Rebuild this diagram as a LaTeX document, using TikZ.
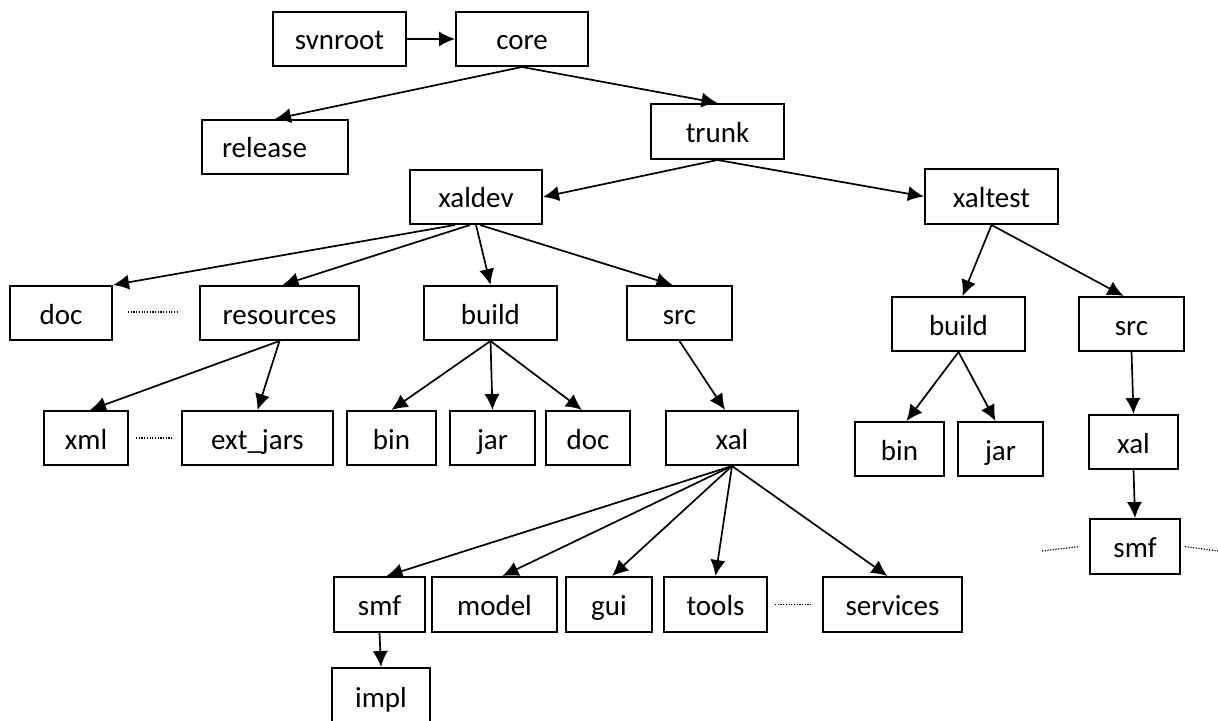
\documentclass[tikz,border=0pt]{standalone}
\usepackage{fontspec}
\setmainfont{Carlito}
\usetikzlibrary{arrows.meta,calc}
\newcommand\mkbox[6]{%
  \pgfmathsetmacro\bxX{(#2+#4)/2}%
  \pgfmathsetmacro\bxY{(#3+#5)/2}%
  \pgfmathsetmacro\bxW{(#4-#2)*0.5}%
  \pgfmathsetmacro\bxH{(#5-#3)*0.5}%
  \node[box,minimum width=\bxW pt,minimum height=\bxH pt] (#1) at (\bxX,\bxY) {#6};}
\begin{document}
\begin{tikzpicture}[x=0.5pt,y=-0.5pt,
  box/.style={draw,line width=1pt,inner sep=0pt,font=\fontsize{14.5pt}{17pt}\selectfont,text height=11pt,text depth=0pt},
  arr/.style={line width=0.85pt,-{Latex[length=8pt,width=7.6pt]}},
  dots/.style={line width=0.6pt,dash pattern=on 0.6pt off 0.75pt}]
\useasboundingbox (0,0) rectangle (1218,721);
\clip (0,0) rectangle (1218,721);
% row 0
\mkbox{svnroot}{273}{12}{406}{66}{svnroot}
\mkbox{core}{456}{12}{588}{66}{core}
% row 1
\node[box,minimum height=27pt,inner xsep=10pt,text width=53pt,align=left] (release) at (275,147) {release};
\mkbox{trunk}{651}{104}{784}{159}{trunk}
% row 2
\mkbox{xaldev}{410}{170}{542}{224}{xaldev}
\mkbox{xaltest}{925}{169}{1058}{224}{xaltest}
% row 3
\mkbox{doc}{10}{286}{112}{340}{doc}
\mkbox{resources}{200}{286}{359}{340}{resources}
\mkbox{build}{424}{286}{557}{340}{build}
\mkbox{src}{627}{286}{732}{340}{src}
\mkbox{build2}{892}{297}{1025}{351}{build}
\mkbox{src2}{1079}{297}{1184}{351}{src}
% row 4
\mkbox{xml}{44}{411}{128}{465}{xml}
\mkbox{extjars}{182}{411}{333}{465}{ext\_jars}
\mkbox{bin}{347}{411}{436}{465}{bin}
\mkbox{jar}{450}{411}{535}{465}{jar}
\mkbox{doc2}{546}{411}{630}{465}{doc}
\mkbox{xal}{666}{411}{798}{465}{xal}
\mkbox{bin2}{855}{422}{944}{476}{bin}
\mkbox{jar2}{958}{422}{1043}{476}{jar}
\mkbox{xal2}{1089}{415}{1178}{469}{xal}
\mkbox{smf2}{1090}{519}{1180}{574}{smf}
% row 5
\mkbox{smf}{334}{577}{425}{632}{smf}
\mkbox{model}{432}{577}{557}{632}{model}
\mkbox{gui}{566}{577}{652}{632}{gui}
\mkbox{tools}{664}{577}{767}{632}{tools}
\mkbox{services}{823}{577}{962}{632}{services}
\mkbox{impl}{332}{668}{430}{724}{impl}
% connectors
\draw[arr] (svnroot.east) -- (core.west);
\draw[arr] (core.south) -- (release.north);
\draw[arr] (core.south) -- (trunk.north);
\draw[arr] (trunk.south) -- (xaldev.east);
\draw[arr] (trunk.south) -- (xaltest.west);
\draw[arr] ($(xaldev.south)+(-21,0)$) -- (doc.north east);
\draw[arr] ($(xaldev.south)+(-6,0)$) -- ($(resources.north)+(3,0)$);
\draw[arr] (xaldev.south) -- (build.north);
\draw[arr] ($(xaldev.south)+(4,0)$) -- ($(src.north)+(-7,0)$);
\draw[arr] (resources.south) -- ($(xml.north)+(4,0)$);
\draw[arr] (resources.south) -- (extjars.north);
\draw[arr] (build.south) -- (bin.north);
\draw[arr] (build.south) -- (jar.north);
\draw[arr] (build.south) -- ($(doc2.north)+(-6,0)$);
\draw[arr] (src.south) -- ($(xal.north)+(-7,0)$);
\draw[arr] (xal.south) -- ($(smf.north)+(7,0)$);
\draw[arr] (xal.south) -- ($(model.north)+(8,0)$);
\draw[arr] (xal.south) -- ($(gui.north)+(3,0)$);
\draw[arr] (xal.south) -- (tools.north);
\draw[arr] (xal.south) -- ($(services.north)+(-5,0)$);
\draw[arr] (smf.south) -- (impl.north);
\draw[arr] (xaltest.south) -- ($(build2.north)+(4,0)$);
\draw[arr] (xaltest.south) -- ($(src2.north)+(-8,0)$);
\draw[arr] (build2.south) -- ($(bin2.north)+(7,0)$);
\draw[arr] (build2.south) -- ($(jar2.north)+(-5,0)$);
\draw[arr] (src2.south) -- (xal2.north);
\draw[arr] (xal2.south) -- (smf2.north);
% dotted continuation marks
\draw[dots] ($(doc.east)+(15,-1)$) -- ($(resources.west)+(-20,-1)$);
\draw[dots] ($(xml.east)+(7,0)$) -- ($(extjars.west)+(-9,0)$);
\draw[dots] ($(tools.east)+(7,0)$) -- ($(services.west)+(-10,0)$);
\coordinate (smfL) at (1042,551);
\coordinate (smfR) at (1218,551);
\draw[dots] (smfL) -- ($(smf2.west)+(-10,0)$);
\draw[dots] ($(smf2.east)+(4,0)$) -- (smfR);
\end{tikzpicture}
\end{document}
